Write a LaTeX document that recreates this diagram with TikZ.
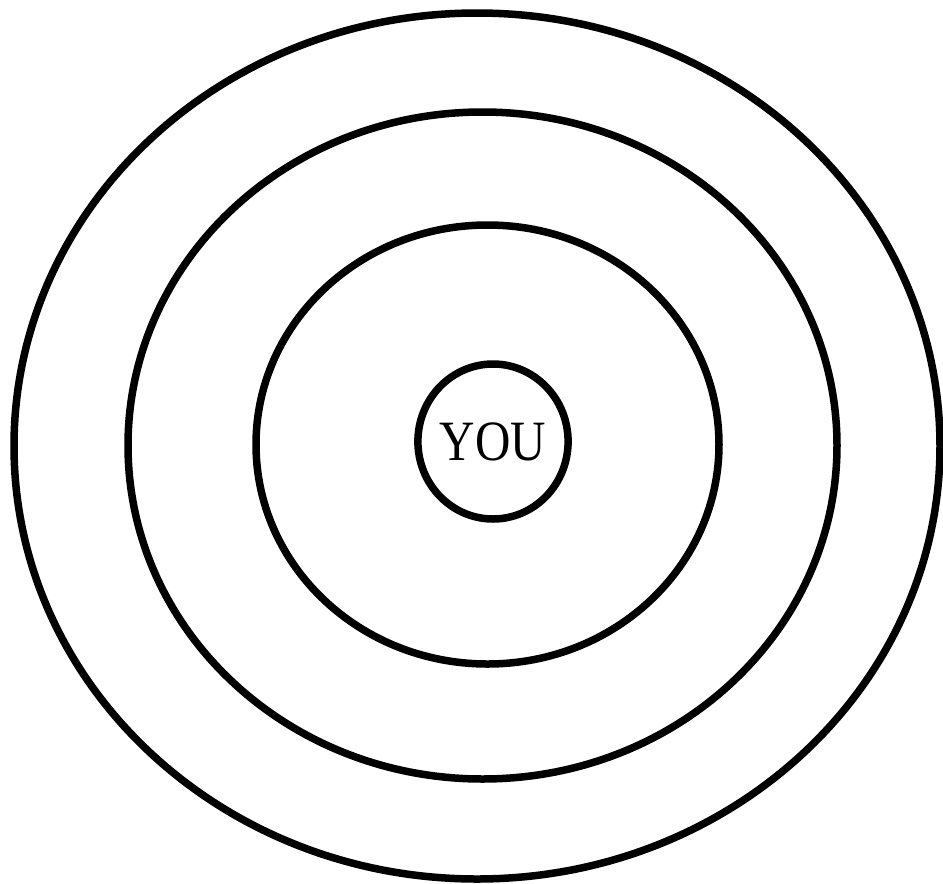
\documentclass[tikz,border=0pt]{standalone}
\usepackage{fontspec}
\usepackage{graphicx}
\setmainfont{Liberation Serif}
\usetikzlibrary{shapes.geometric}
\tikzset{
  ring/.style={draw=black, line width=7.5pt},
  youbox/.style={ellipse, draw=black, line width=7.5pt, inner sep=0pt,
    minimum width=136pt, minimum height=155pt,
    font=\fontsize{57}{62}\selectfont}
}
\begin{document}
\begin{tikzpicture}[x=1pt,y=-1pt]
\useasboundingbox (0,0) rectangle (943,884);
\fill[white] (0,0) rectangle (943,884);
\draw[ring] (477,446) ellipse [x radius=463, y radius=433];
\draw[ring] (482.5,445.5) ellipse [x radius=354.5, y radius=333.5];
\draw[ring] (487.5,444.5) ellipse [x radius=231.5, y radius=219.5];
\node[youbox] (you) at (493,441.5) {\scalebox{0.86}[1]{YOU}};
\end{tikzpicture}
\end{document}
